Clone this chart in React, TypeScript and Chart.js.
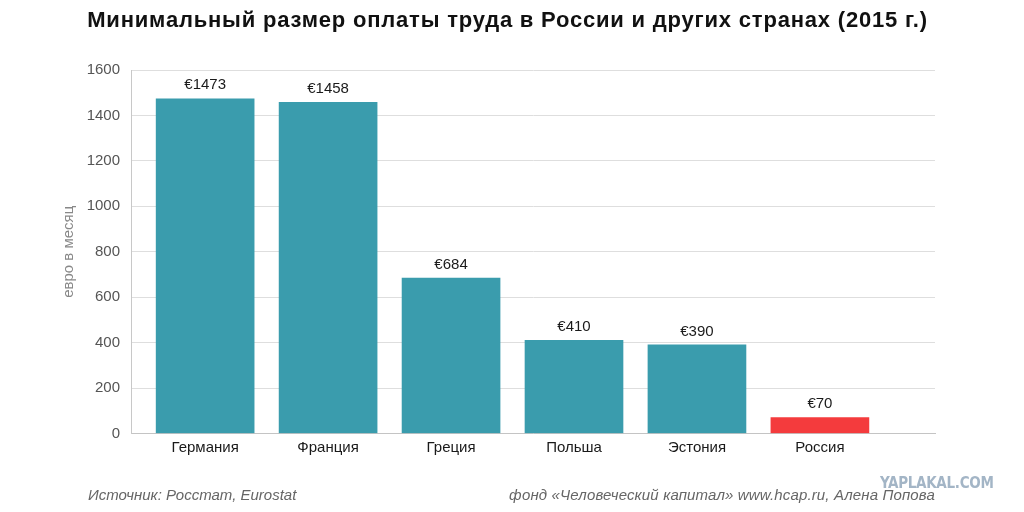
import React, { useEffect, useRef } from "react";
import { Chart, registerables } from "chart.js";

Chart.register(...registerables);

const categories = ["Германия", "Франция", "Греция", "Польша", "Эстония", "Россия"];
const values = [1473, 1458, 684, 410, 390, 70];
const barColors = ["#3a9cad", "#3a9cad", "#3a9cad", "#3a9cad", "#3a9cad", "#f43b3d"];
const yTicks = [0, 200, 400, 600, 800, 1000, 1200, 1400, 1600];
const title = "Минимальный размер оплаты труда в России и других странах (2015 г.)";
const yTitle = "евро в месяц";
const sourceText = "Источник: Росстат, Eurostat";
const creditText = "фонд «Человеческий капитал» www.hcap.ru, Алена Попова";
const watermark = "YAPLAKAL.COM";

const FONT = "'Liberation Sans', Arial, sans-serif";

const valueLabels = {
  id: "valueLabels",
  afterDatasetsDraw(chart: any) {
    const ctx = chart.ctx;
    const meta = chart.getDatasetMeta(0);
    ctx.save();
    ctx.font = `15px ${FONT}`;
    ctx.fillStyle = "#1a1a1a";
    ctx.textAlign = "center";
    ctx.textBaseline = "middle";
    meta.data.forEach((bar: any, i: number) => {
      ctx.fillText("€" + values[i], bar.x, bar.y - 13.5);
    });
    ctx.restore();
  },
};

function BarChart() {
  const ref = useRef<HTMLCanvasElement | null>(null);
  useEffect(() => {
    if (!ref.current) return;
    const chart = new Chart(ref.current, {
      type: "bar",
      data: {
        datasets: [
          {
            data: values.map((v, i) => ({ x: i, y: v })),
            backgroundColor: barColors,
            barThickness: 98,
            borderWidth: 0,
          },
        ],
      },
      options: {
        animation: false,
        responsive: false,
        devicePixelRatio: 1,
        layout: { padding: { left: 0, right: 89, top: 70, bottom: 48.5 } },
        plugins: { legend: { display: false }, tooltip: { enabled: false }, title: { display: false } },
        scales: {
          x: {
            type: "linear",
            offset: false,
            min: -0.603,
            max: 5.936,
            grid: { display: false, offset: false, drawTicks: false },
            border: { display: true, color: "#c4c4c4", width: 1 },
            afterBuildTicks: (axis: any) => {
              axis.ticks = categories.map((_, i) => ({ value: i }));
            },
            afterFit: (axis: any) => {
              axis.height = 30;
            },
            ticks: {
              autoSkip: false,
              maxRotation: 0,
              padding: 5,
              color: "#1a1a1a",
              font: { family: FONT, size: 15 },
              callback: (v: any) => categories[v] ?? "",
            },
          },
          y: {
            min: 0,
            max: 1600,
            afterBuildTicks: (axis: any) => {
              axis.ticks = yTicks.map((v) => ({ value: v }));
            },
            afterFit: (axis: any) => {
              axis.width = 131;
            },
            grid: { color: "#dedede", lineWidth: 1, drawTicks: false },
            border: { display: true, color: "#c8c8c8", width: 1 },
            ticks: {
              padding: 11,
              color: "#555555",
              font: { family: FONT, size: 15 },
              callback: (v: any) => String(v),
            },
            title: {
              display: true,
              text: yTitle,
              color: "#888888",
              font: { family: FONT, size: 15 },
              padding: { top: 60, bottom: 0 },
            },
          },
        },
      },
      plugins: [valueLabels],
    });
    return () => chart.destroy();
  }, []);
  return <canvas ref={ref} width={1024} height={512} style={{ position: "absolute", left: 0, top: 0 }} />;
}

export default function App() {
  return (
    <div
      style={{
        position: "fixed",
        left: 0,
        top: 0,
        width: 1024,
        height: 512,
        background: "#ffffff",
        overflow: "hidden",
        fontFamily: FONT,
      }}
    >
      <BarChart />
      <div
        style={{
          position: "absolute",
          left: 0,
          width: 1015,
          top: 6,
          textAlign: "center",
          fontWeight: "bold",
          fontSize: 22,
          letterSpacing: "0.8px",
          color: "#111",
          lineHeight: "28px",
          whiteSpace: "nowrap",
        }}
      >
        {title}
      </div>
      <div
        style={{
          position: "absolute",
          left: 88,
          top: 486,
          fontStyle: "italic",
          fontSize: 15,
          color: "#666",
          lineHeight: "18px",
          whiteSpace: "nowrap",
        }}
      >
        {sourceText}
      </div>
      <div
        style={{
          position: "absolute",
          right: 89,
          top: 486,
          fontStyle: "italic",
          fontSize: 15,
          letterSpacing: "0.15px",
          color: "#666",
          lineHeight: "18px",
          whiteSpace: "nowrap",
        }}
      >
        {creditText}
      </div>
      <div
        style={{
          position: "absolute",
          left: 880,
          top: 475,
          fontWeight: "bold",
          fontSize: 15,
          letterSpacing: "-0.3px",
          color: "#a3b5c6",
          lineHeight: "16px",
          fontFamily: "'Liberation Sans Narrow', 'DejaVu Sans Condensed', sans-serif",
          whiteSpace: "nowrap",
        }}
      >
        {watermark}
      </div>
    </div>
  );
}
